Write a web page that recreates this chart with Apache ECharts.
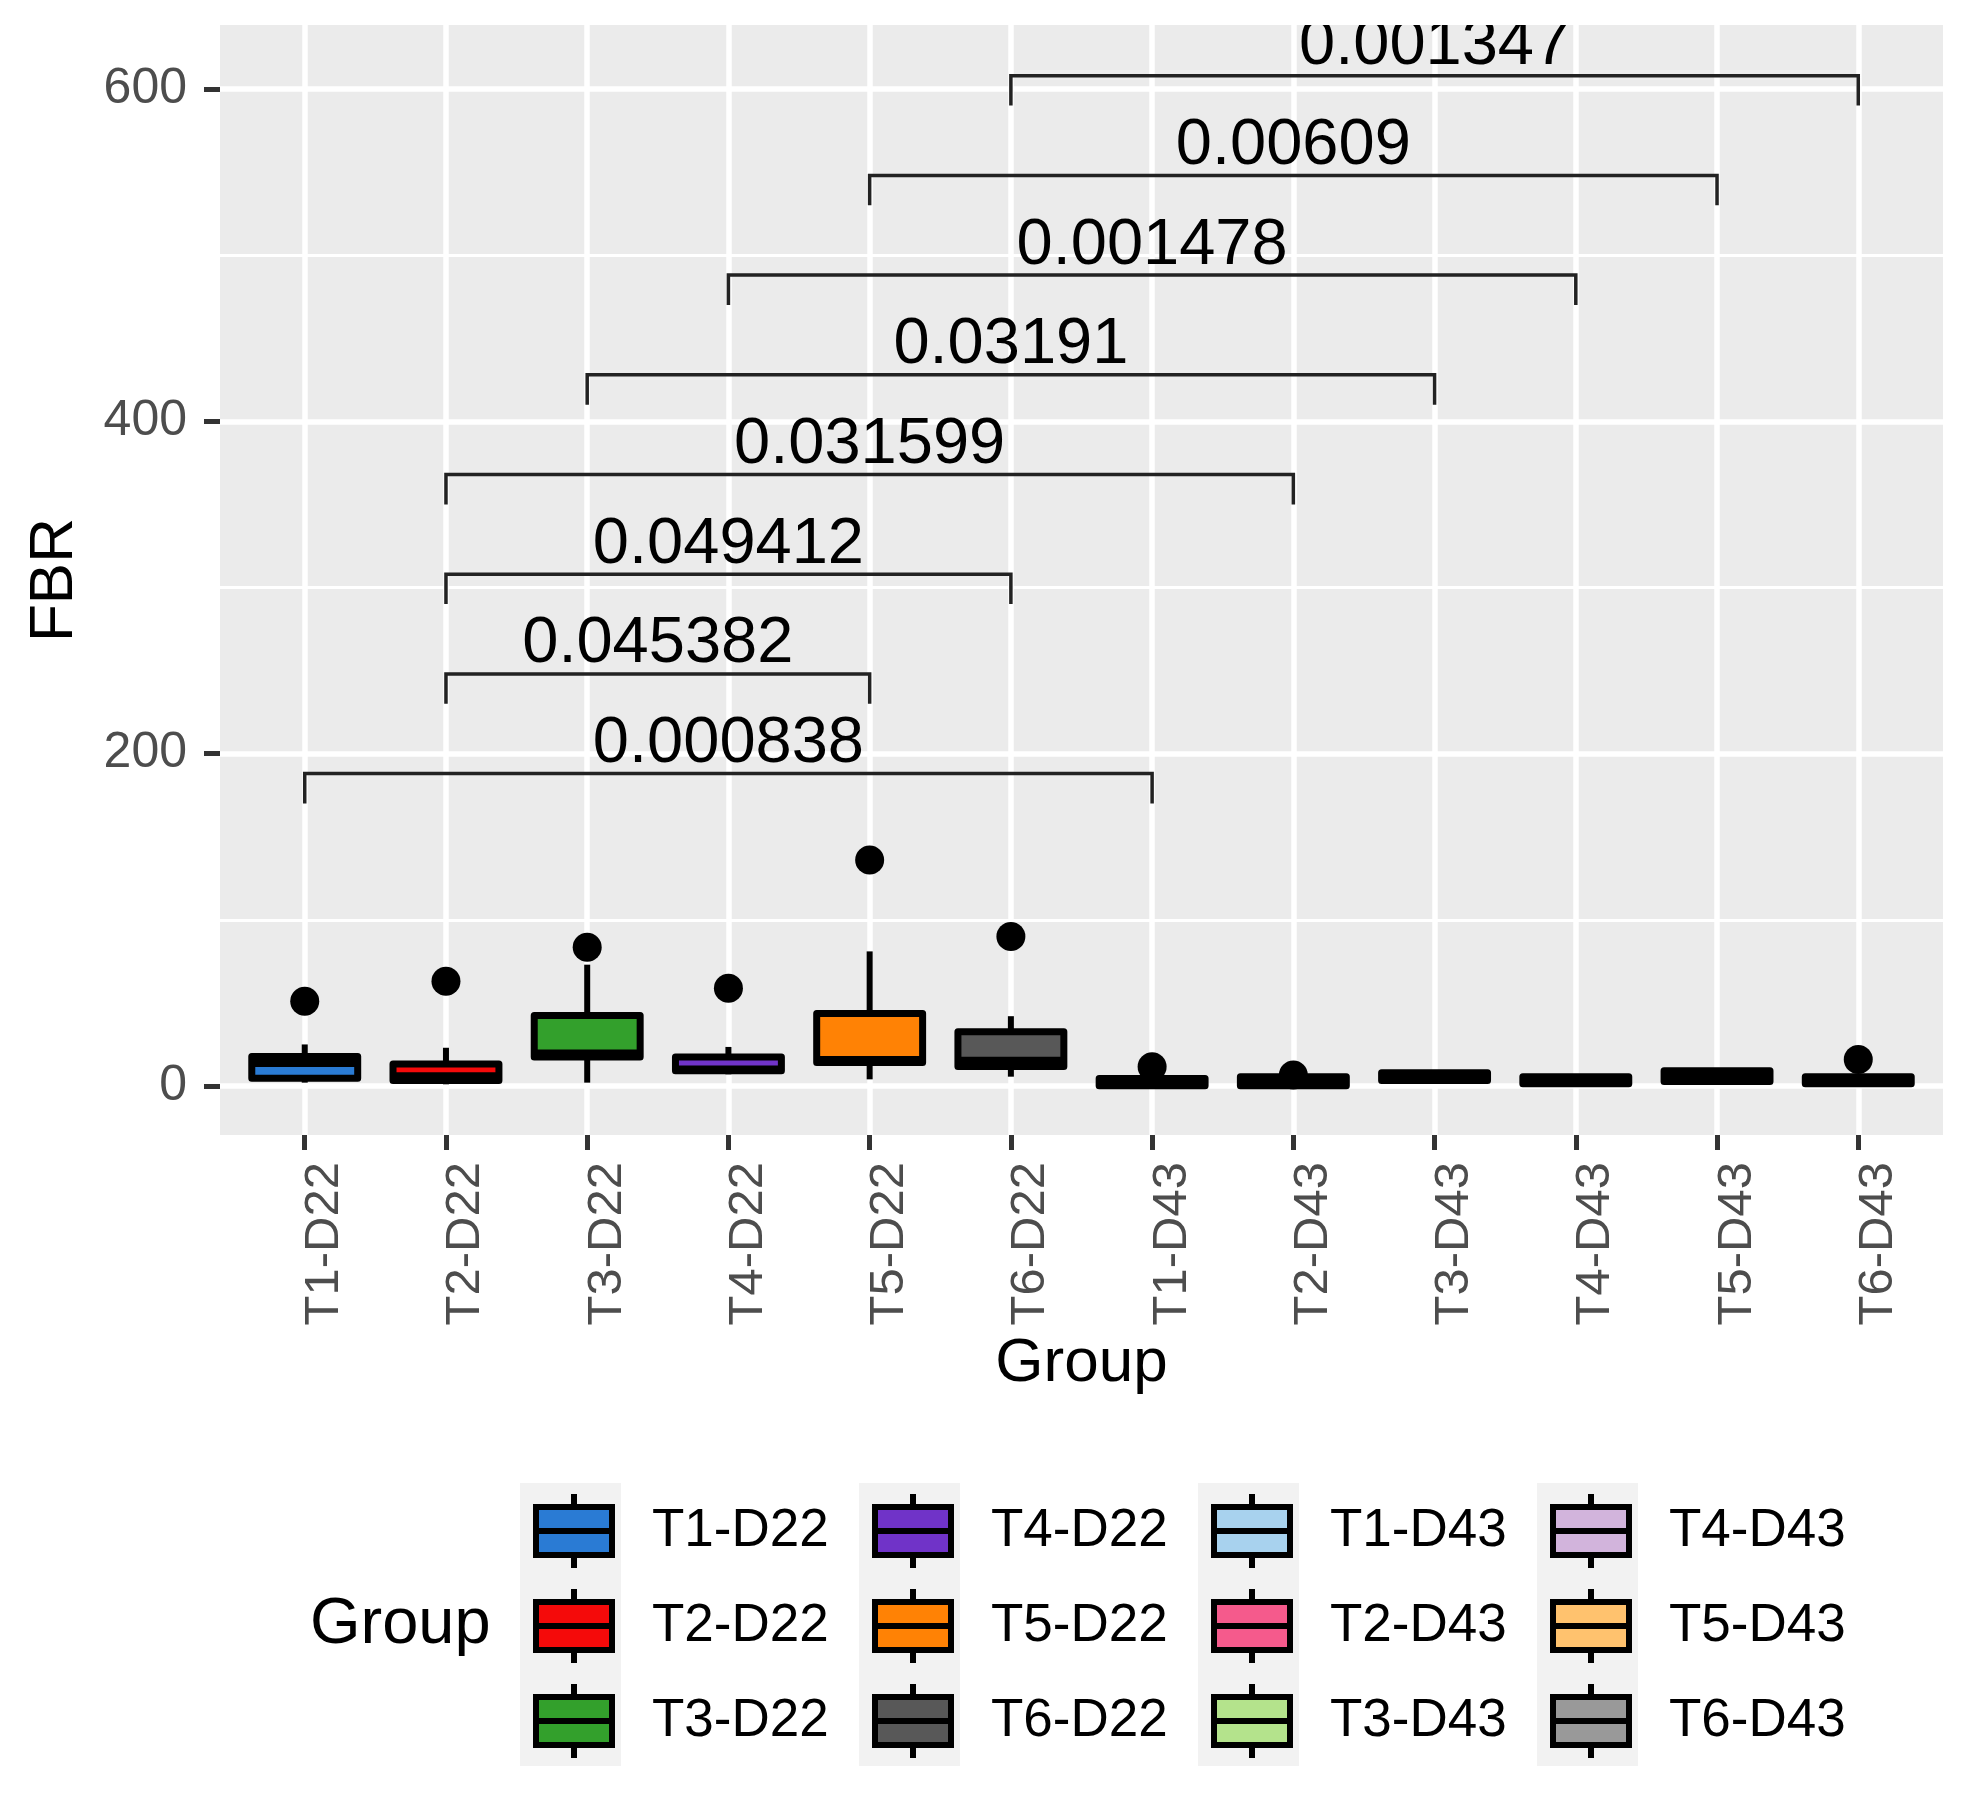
<!DOCTYPE html>
<html lang="en" style="height: 100%">
<head>
  <meta charset="utf-8">
</head>
<body style="height: 100%; margin: 0; background: #fff">
  <div id="container" style="width: 1964px; height: 1793px"></div>

  <script type="text/javascript" src="https://fastly.jsdelivr.net/npm/echarts@6/dist/echarts.min.js"></script>

  <script type="text/javascript">
    // groups on the x axis
    var categories = ['T1-D22', 'T2-D22', 'T3-D22', 'T4-D22', 'T5-D22', 'T6-D22',
                      'T1-D43', 'T2-D43', 'T3-D43', 'T4-D43', 'T5-D43', 'T6-D43'];
    var groupColors = ['#2A7BD4', '#F50A0A', '#33A02C', '#7033C8', '#FF8205', '#585858',
                       '#A8D2EE', '#F55A8C', '#B4E38C', '#D2B4DC', '#FFC26E', '#999999'];

    // box statistics
    var boxMin    = [2,    1,    2,    7,    4,    5.6,  0,   0,   3.3, 1.3, 2.7, 1.3];
    var boxQ1     = [4.7,  3.3,  17.5, 9.1,  14.1, 11.7, 0.1, 0.1, 3.3, 1.3, 2.7, 1.3];
    var boxMedian = [13.5, 6.2,  19.9, 10.2, 15.9, 15.5, 2.3, 2.8, 5.6, 3.4, 5.9, 3.4];
    var boxQ3     = [17.8, 13.3, 42.4, 17.4, 43.6, 32.6, 4.5, 5.5, 7.9, 5.5, 9.1, 5.5];
    var boxMax    = [25,   23,   73,   23.5, 81,   42,   4.5, 5.5, 8.9, 5.5, 9.1, 5.5];

    // outliers: group index and value
    var outlierGroup = [0, 1, 2, 3, 4, 5, 6, 7, 11];
    var outlierValue = [51, 63, 83.5, 58.8, 136, 90, 11.6, 6.6, 16];

    // significance brackets
    var bracketFrom   = [0, 1, 1, 1, 2, 3, 4, 5];
    var bracketTo     = [6, 4, 5, 7, 8, 9, 10, 11];
    var bracketY      = [188, 248, 308, 368, 428, 488, 548, 608];
    var bracketLabels = ['0.000838', '0.045382', '0.049412', '0.031599',
                         '0.03191', '0.001478', '0.00609', '0.001347'];
    var bracketDrop = 18;

    var xTicks = categories.map(function (c, i) { return i; });
    var yTicks = [0, 200, 400, 600];
    var yMinor = [100, 300, 500];

    var FONT = 'Liberation Sans, Arial, sans-serif';
    var BOX_LW = 7;
    var GRID_LW = 5.5;

    var dom = document.getElementById('container');
    var myChart = echarts.init(dom, null, { renderer: 'canvas' });

    function renderBox(params, api) {
      var i = api.value(0);
      var half = api.size([1, 0])[0] * 0.375;
      var pMin = api.coord([i, api.value(1)]);
      var pQ1 = api.coord([i, api.value(2)]);
      var pMed = api.coord([i, api.value(3)]);
      var pQ3 = api.coord([i, api.value(4)]);
      var pMax = api.coord([i, api.value(5)]);
      var x = pQ1[0];
      var whisker = { stroke: '#000', lineWidth: 6 };
      return {
        type: 'group',
        children: [
          { type: 'line', shape: { x1: x, y1: pQ3[1], x2: x, y2: pMax[1] }, style: whisker },
          { type: 'line', shape: { x1: x, y1: pQ1[1], x2: x, y2: pMin[1] }, style: whisker },
          {
            type: 'rect',
            shape: { x: x - half, y: pQ3[1], width: half * 2, height: pQ1[1] - pQ3[1] },
            style: { fill: api.visual('color'), stroke: '#000', lineWidth: BOX_LW, lineJoin: 'round' }
          },
          {
            type: 'line',
            shape: { x1: x - half, y1: pMed[1], x2: x + half, y2: pMed[1] },
            style: { stroke: '#000', lineWidth: BOX_LW }
          }
        ]
      };
    }

    function renderBracket(params, api) {
      var y = api.value(2);
      var p1 = api.coord([api.value(0), y - bracketDrop]);
      var p2 = api.coord([api.value(0), y]);
      var p3 = api.coord([api.value(1), y]);
      var p4 = api.coord([api.value(1), y - bracketDrop]);
      return {
        type: 'group',
        children: [
          {
            type: 'polyline',
            shape: { points: [p1, p2, p3, p4] },
            style: { stroke: '#222', lineWidth: 3.5, fill: null }
          },
          {
            type: 'text',
            x: (p2[0] + p3[0]) / 2,
            y: p2[1] + 3,
            style: {
              text: bracketLabels[params.dataIndex],
              fontSize: 65, fontFamily: FONT, fill: '#000',
              align: 'center', verticalAlign: 'bottom'
            }
          }
        ]
      };
    }

    var gridLines = [];
    yTicks.forEach(function (v) { gridLines.push({ yAxis: v, lineStyle: { width: GRID_LW } }); });
    yMinor.forEach(function (v) { gridLines.push({ yAxis: v, lineStyle: { width: 3 } }); });
    xTicks.forEach(function (v) { gridLines.push({ xAxis: v, lineStyle: { width: GRID_LW } }); });

    var series = categories.map(function (name, i) {
      return {
        name: name,
        type: 'custom',
        renderItem: renderBox,
        z: 3,
        itemStyle: { color: groupColors[i], borderColor: '#000', borderWidth: 6 },
        encode: { x: 0, y: [1, 2, 3, 4, 5] },
        data: [[i, boxMin[i], boxQ1[i], boxMedian[i], boxQ3[i], boxMax[i]]]
      };
    });

    series.push({
      name: 'outliers',
      type: 'scatter',
      z: 4,
      symbolSize: 29,
      itemStyle: { color: '#000', opacity: 1 },
      data: outlierGroup.map(function (g, k) { return [g, outlierValue[k]]; }),
      markLine: {
        silent: true,
        z: 1,
        symbol: ['none', 'none'],
        label: { show: false },
        lineStyle: { color: '#fff', type: 'solid' },
        emphasis: { disabled: true },
        data: gridLines
      }
    });

    series.push({
      name: 'brackets',
      type: 'custom',
      z: 5,
      clip: true,
      renderItem: renderBracket,
      encode: { x: [0, 1], y: 2 },
      data: bracketFrom.map(function (f, k) { return [f, bracketTo[k], bracketY[k]]; })
    });

    // legend: 4 columns of 3 keys, grey key background per column
    var legendLeft = 533;
    var colStep = 339;
    var columns = [0, 1, 2, 3];
    var bgRects = columns.map(function (c) {
      return {
        type: 'rect',
        left: legendLeft - 13 + c * colStep,
        top: 1483,
        z: -1,
        shape: { width: 101, height: 283 },
        style: { fill: '#F2F2F2' },
        silent: true
      };
    });
    var legends = columns.map(function (c) {
      return {
        data: categories.slice(c * 3, c * 3 + 3),
        orient: 'vertical',
        left: legendLeft + c * colStep,
        top: 1491,
        padding: 0,
        itemGap: 15,
        itemWidth: 76,
        itemHeight: 74,
        selectedMode: false,
        icon: 'path://M38,0L38,13M0,13L76,13L76,61L0,61ZM0,37L76,37M38,61L38,74',
        itemStyle: { borderColor: '#000', borderWidth: 6 },
        textStyle: { fontSize: 53, color: '#000', fontFamily: FONT, padding: [0, 0, 0, 35] }
      };
    });

    var option = {
      animation: false,
      backgroundColor: '#fff',
      textStyle: { fontFamily: FONT },
      grid: {
        left: 220, right: 21, top: 25, bottom: 658,
        show: true, backgroundColor: '#EBEBEB', borderWidth: 0
      },
      xAxis: {
        type: 'value',
        min: -0.6,
        max: 11.6,
        name: 'Group',
        nameLocation: 'middle',
        nameGap: 190,
        nameTextStyle: { fontSize: 62, color: '#000', fontFamily: FONT },
        axisLine: { show: false, onZero: false },
        axisTick: { show: true, customValues: xTicks, length: 15, lineStyle: { color: '#333', width: 5 } },
        axisLabel: {
          customValues: xTicks,
          formatter: function (v) { return categories[Math.round(v)]; },
          rotate: 90, margin: 27, fontSize: 49, color: '#4D4D4D', fontFamily: FONT,
          verticalAlign: 'top', lineHeight: 40
        },
        splitLine: { show: false }
      },
      yAxis: {
        type: 'value',
        min: -29.5,
        max: 638.5,
        name: 'FBR',
        nameLocation: 'middle',
        nameGap: 134,
        nameRotate: 90,
        nameTextStyle: { fontSize: 62, color: '#000', fontFamily: FONT },
        axisLine: { show: false, onZero: false },
        axisTick: { show: true, customValues: yTicks, length: 16, lineStyle: { color: '#333', width: 5 } },
        axisLabel: { customValues: yTicks, margin: 33, fontSize: 50, color: '#4D4D4D', fontFamily: FONT },
        splitLine: { show: false }
      },
      legend: legends,
      graphic: bgRects.concat([
        {
          type: 'text',
          left: 310,
          top: 1631 - 38,
          style: { text: 'Group', fontSize: 65, fill: '#000', fontFamily: FONT }
        }
      ]),
      series: series
    };

    myChart.setOption(option);
    window.addEventListener('resize', myChart.resize);
  </script>
</body>
</html>
